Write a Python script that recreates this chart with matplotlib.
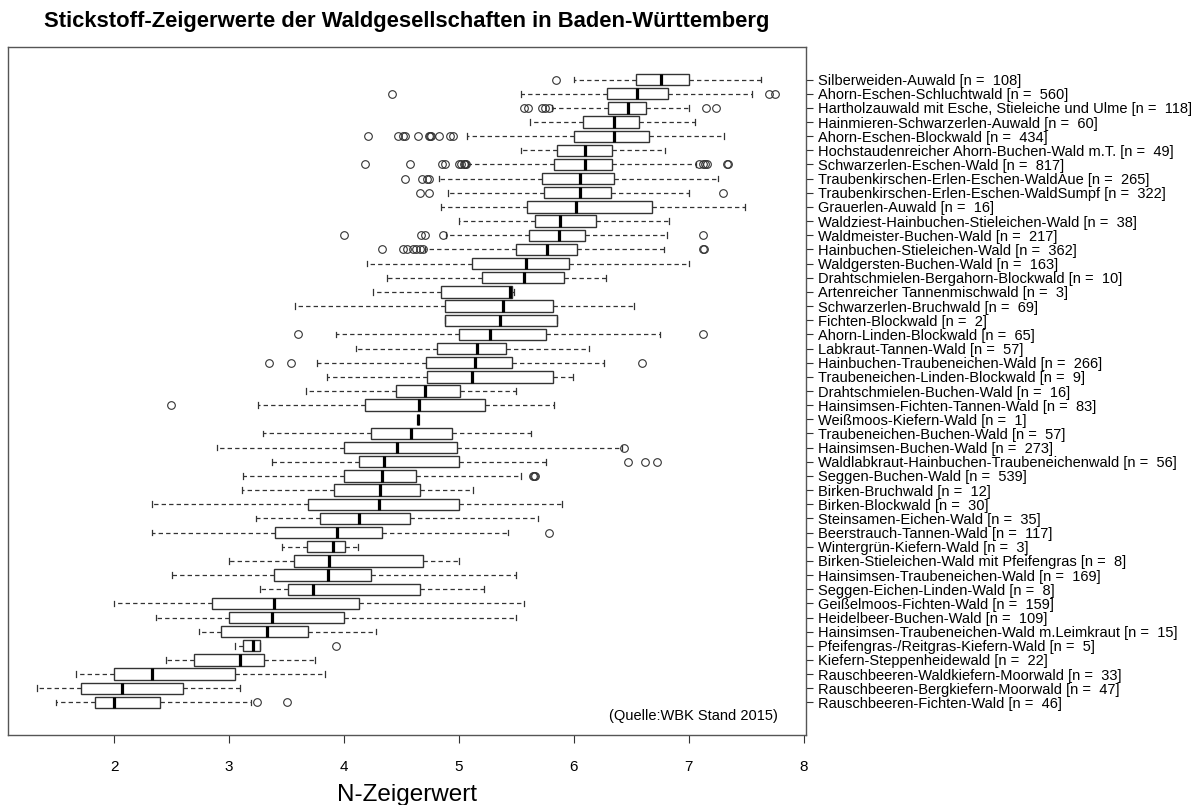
import numpy as np
import matplotlib
matplotlib.use("Agg")
import matplotlib.pyplot as plt

plt.rcParams['font.family'] = ['Liberation Sans', 'DejaVu Sans']

# Waldgesellschaften, von oben nach unten
names = [
    "Silberweiden-Auwald",
    "Ahorn-Eschen-Schluchtwald",
    "Hartholzauwald mit Esche, Stieleiche und Ulme",
    "Hainmieren-Schwarzerlen-Auwald",
    "Ahorn-Eschen-Blockwald",
    "Hochstaudenreicher Ahorn-Buchen-Wald m.T.",
    "Schwarzerlen-Eschen-Wald",
    "Traubenkirschen-Erlen-Eschen-WaldAue",
    "Traubenkirschen-Erlen-Eschen-WaldSumpf",
    "Grauerlen-Auwald",
    "Waldziest-Hainbuchen-Stieleichen-Wald",
    "Waldmeister-Buchen-Wald",
    "Hainbuchen-Stieleichen-Wald",
    "Waldgersten-Buchen-Wald",
    "Drahtschmielen-Bergahorn-Blockwald",
    "Artenreicher Tannenmischwald",
    "Schwarzerlen-Bruchwald",
    "Fichten-Blockwald",
    "Ahorn-Linden-Blockwald",
    "Labkraut-Tannen-Wald",
    "Hainbuchen-Traubeneichen-Wald",
    "Traubeneichen-Linden-Blockwald",
    "Drahtschmielen-Buchen-Wald",
    "Hainsimsen-Fichten-Tannen-Wald",
    "Weißmoos-Kiefern-Wald",
    "Traubeneichen-Buchen-Wald",
    "Hainsimsen-Buchen-Wald",
    "Waldlabkraut-Hainbuchen-Traubeneichenwald",
    "Seggen-Buchen-Wald",
    "Birken-Bruchwald",
    "Birken-Blockwald",
    "Steinsamen-Eichen-Wald",
    "Beerstrauch-Tannen-Wald",
    "Wintergrün-Kiefern-Wald",
    "Birken-Stieleichen-Wald mit Pfeifengras",
    "Hainsimsen-Traubeneichen-Wald",
    "Seggen-Eichen-Linden-Wald",
    "Geißelmoos-Fichten-Wald",
    "Heidelbeer-Buchen-Wald",
    "Hainsimsen-Traubeneichen-Wald m.Leimkraut",
    "Pfeifengras-/Reitgras-Kiefern-Wald",
    "Kiefern-Steppenheidewald",
    "Rauschbeeren-Waldkiefern-Moorwald",
    "Rauschbeeren-Bergkiefern-Moorwald",
    "Rauschbeeren-Fichten-Wald",
]
n_plots = [108, 560, 118, 60, 434, 49, 817, 265, 322, 16, 38, 217, 362, 163, 10,
           3, 69, 2, 65, 57, 266, 9, 16, 83, 1, 57, 273, 56, 539, 12, 30, 35, 117,
           3, 8, 169, 8, 159, 109, 15, 5, 22, 33, 47, 46]

whis_lo = [6.00, 5.54, 5.81, 5.62, 5.07, 5.54, 5.08, 4.83, 4.90, 4.84, 5.00, 4.89,
           4.70, 4.20, 4.37, 4.25, 3.57, 4.88, 3.93, 4.10, 3.76, 3.85, 3.67, 3.25,
           4.64, 3.29, 2.89, 3.37, 3.12, 3.11, 2.33, 3.23, 2.33, 3.46, 3.00, 2.50,
           3.27, 2.00, 2.36, 2.74, 3.05, 2.45, 1.67, 1.33, 1.49]
q1 = [6.54, 6.29, 6.30, 6.08, 6.00, 5.85, 5.83, 5.72, 5.74, 5.59, 5.66, 5.61, 5.50,
      5.11, 5.20, 4.84, 4.88, 4.88, 5.00, 4.81, 4.71, 4.72, 4.45, 4.18, 4.64, 4.23,
      4.00, 4.13, 4.00, 3.91, 3.69, 3.79, 3.40, 3.68, 3.56, 3.39, 3.51, 2.85, 3.00,
      2.93, 3.12, 2.69, 2.00, 1.71, 1.83]
med = [6.76, 6.55, 6.47, 6.35, 6.35, 6.10, 6.10, 6.05, 6.05, 6.02, 5.88, 5.87, 5.77,
       5.58, 5.57, 5.44, 5.38, 5.36, 5.27, 5.16, 5.14, 5.11, 4.70, 4.65, 4.64, 4.58,
       4.46, 4.35, 4.33, 4.31, 4.30, 4.13, 3.94, 3.90, 3.87, 3.86, 3.73, 3.39, 3.37,
       3.33, 3.21, 3.09, 2.33, 2.07, 2.00]
q3 = [7.00, 6.82, 6.63, 6.57, 6.65, 6.33, 6.33, 6.35, 6.32, 6.68, 6.19, 6.10, 6.03,
      5.96, 5.91, 5.46, 5.82, 5.85, 5.76, 5.41, 5.46, 5.82, 5.01, 5.23, 4.64, 4.94,
      4.98, 5.00, 4.63, 4.66, 5.00, 4.57, 4.33, 4.01, 4.69, 4.23, 4.66, 4.13, 4.00,
      3.69, 3.27, 3.30, 3.05, 2.60, 2.40]
whis_hi = [7.63, 7.55, 7.00, 7.05, 7.31, 6.79, 7.06, 7.25, 7.00, 7.49, 6.83, 6.81,
           6.78, 7.00, 6.28, 5.48, 6.52, 5.85, 6.75, 6.13, 6.26, 5.99, 5.50, 5.83,
           4.64, 5.63, 6.42, 5.76, 5.54, 5.12, 5.90, 5.69, 5.43, 4.12, 5.00, 5.50,
           5.22, 5.57, 5.50, 4.28, 3.27, 3.75, 3.83, 3.09, 3.19]
outliers = [
    [5.84],
    [4.42, 7.70, 7.75],
    [5.57, 5.60, 5.72, 5.75, 5.78, 7.15, 7.24],
    [],
    [4.21, 4.47, 4.51, 4.53, 4.64, 4.74, 4.75, 4.76, 4.83, 4.92, 4.95],
    [],
    [4.18, 4.57, 4.85, 4.88, 5.00, 5.02, 5.04, 5.05, 5.06, 7.09, 7.12, 7.14, 7.16, 7.33, 7.34],
    [4.53, 4.68, 4.72, 4.74],
    [4.66, 4.74, 7.30],
    [],
    [],
    [4.00, 4.67, 4.70, 4.86, 7.12],
    [4.33, 4.51, 4.55, 4.60, 4.63, 4.66, 4.69, 7.12, 7.13],
    [], [], [], [], [],
    [3.60, 7.12],
    [],
    [3.35, 3.54, 6.59],
    [], [],
    [2.49],
    [], [],
    [6.44],
    [6.47, 6.62, 6.72],
    [5.64, 5.65, 5.66],
    [], [], [],
    [5.78],
    [], [], [], [], [], [], [],
    [3.93],
    [], [], [],
    [3.24, 3.50],
]

labels = [f"{nm} [n =  {k}]" for nm, k in zip(names, n_plots)]
pos = np.arange(len(names), 0, -1)

stats = []
for i in range(len(names)):
    stats.append(dict(whislo=whis_lo[i], q1=q1[i], med=med[i], q3=q3[i],
                      whishi=whis_hi[i], fliers=outliers[i]))

fig = plt.figure(figsize=(12.01, 8.05), dpi=100)
ax = fig.add_axes([8 / 1201, 70 / 805, 798 / 1201, 688 / 805])

edge = '#333333'
ax.bxp(stats, positions=pos, orientation='horizontal', widths=0.8, capwidths=0.4,
       patch_artist=True,
       boxprops=dict(facecolor='white', edgecolor=edge, linewidth=1.0),
       medianprops=dict(color='black', linewidth=2.3, solid_capstyle='butt'),
       whiskerprops=dict(color=edge, linewidth=0.9, linestyle=(0, (3.5, 2.5))),
       capprops=dict(color=edge, linewidth=0.9),
       flierprops=dict(marker='o', markerfacecolor='none', markeredgecolor=edge,
                       markersize=5.5, markeredgewidth=0.8))

ax.set_xlim(1.075, 8.02)
ax.set_ylim(-1.3, 47.3)
ax.set_xticks([2, 3, 4, 5, 6, 7, 8])
ax.set_xticklabels(['2', '3', '4', '5', '6', '7', '8'])
ax.yaxis.tick_right()
ax.set_yticks(pos)
ax.set_yticklabels(labels)
ax.tick_params(axis='y', length=5, width=0.8, color=edge, labelsize=10.5, pad=4)
ax.tick_params(axis='x', length=6, width=0.8, color=edge, labelsize=11, pad=12)
for sp in ax.spines.values():
    sp.set_color('#555555')
    sp.set_linewidth(1.0)

ax.set_xlabel("N-Zeigerwert", fontsize=17.5, labelpad=7)
ax.text(0.965, 0.028, "(Quelle:WBK Stand 2015)", transform=ax.transAxes,
        ha='right', va='center', fontsize=10.5)
fig.text(407 / 1201, 1 - 21 / 805,
         "Stickstoff-Zeigerwerte der Waldgesellschaften in Baden-Württemberg",
         ha='center', va='center', fontsize=15.8, fontweight='bold')

fig.savefig("out.png", dpi=100)
